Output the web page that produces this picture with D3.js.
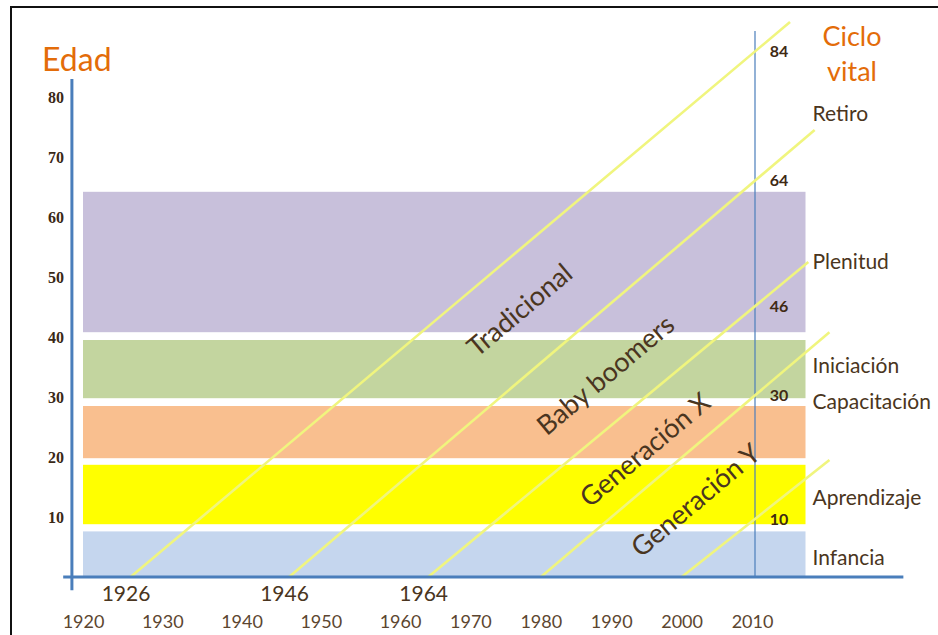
<!DOCTYPE html>
<html>
<head>
<meta charset="utf-8">
<script src="https://cdn.jsdelivr.net/npm/d3@7"></script>
<style>
  body { margin: 0; background: #ffffff; }
  #chart text { font-family: Lato, "Open Sans", sans-serif; }
</style>
</head>
<body>
<div id="chart"></div>
<script>

// ---- data ----

// age bands (life stages), from/to in years of age
var stageNames = ["Infancia", "Aprendizaje", "Capacitación", "Iniciación", "Plenitud"];
var stageFrom = [0, 8.8, 19.8, 29.8, 40.8];
var stageTo = [7.6, 18.7, 28.5, 39.5, 64.2];
var bandYears = [1920, 2017.6];

// labels on the right ("Ciclo vital") and the age where they sit
var lifeLabels = ["Retiro", "Plenitud", "Iniciación", "Capacitación", "Aprendizaje", "Infancia"];
var lifeLabelAges = [77.3, 52.5, 35.2, 29.2, 13.3, 3.3];

// generation lines: birth year, where the line ends (year, age)
var births = [1926, 1946, 1964, 1980, 2000];
var lineEndYears = [2015.4, 2018.9, 2018, 2021, 2021];
var lineEndAges = [92.5, 74.5, 52.5, 40.8, 19.5];
var birthLabels = [1926, 1946, 1964];
var refYear = 2010;
var refTopAge = 91;

// generation names, centre of the rotated text (year, age)
var genNames = ["Tradicional", "Baby boomers", "Generación X", "Generación Y"];
var genYears = [1977, 1989.2, 1994.8, 2002];
var genAges = [44.5, 33.7, 21.2, 12.8];

// tick labels
var yearTicks = [1920, 1930, 1940, 1950, 1960, 1970, 1980, 1990, 2000, 2010];
var ageTicks = [10, 20, 30, 40, 50, 60, 70, 80];

// ---- styles ----
var stageColors = ["#c5d6ee", "#ffff00", "#f9bf8f", "#c3d59f", "#c8c0db"];
var axisBlue = "#4a7ebb";
var brown = "#4a3520";
var orange = "#e36c09";

var svgWidth = 938;
var svgHeight = 635;

var svg = d3.select("#chart")
    .append("svg")
    .attr("width", svgWidth)
    .attr("height", svgHeight);

// the hand drawn year axis is not quite even, so two pieces
var x = d3.scaleLinear()
    .domain([1920, 1960, 2010])
    .range([83, 400, 752]);

var y = d3.scaleLinear()
    .domain([0, 80])
    .range([577, 97]);

// frame (only top and left are inside the picture)
svg.append("path")
    .attr("d", "M11,640 V7 H945")
    .attr("fill", "none")
    .attr("stroke", "#111")
    .attr("stroke-width", 2);

// bands
svg.selectAll(".band")
    .data(stageNames)
    .enter().append("rect")
    .attr("class", "band")
    .attr("x", x(bandYears[0]))
    .attr("width", x(bandYears[1]) - x(bandYears[0]))
    .attr("y", (d, i) => y(stageTo[i]))
    .attr("height", (d, i) => y(stageFrom[i]) - y(stageTo[i]))
    .attr("fill", (d, i) => stageColors[i]);

// vertical line at 2010
svg.append("line")
    .attr("x1", x(refYear) + 3).attr("x2", x(refYear) + 3)
    .attr("y1", y(refTopAge)).attr("y2", y(0))
    .attr("stroke", axisBlue)
    .attr("stroke-width", 1.2);

// generation lines
var lineData = births.map((b, i) => [[b, 0], [lineEndYears[i], lineEndAges[i]]]);
var lineGen = d3.line().x(d => x(d[0])).y(d => y(d[1]));

svg.selectAll(".gen-line")
    .data(lineData)
    .enter().append("path")
    .attr("class", "gen-line")
    .attr("d", lineGen)
    .attr("stroke", "#f0f57e")
    .attr("stroke-width", 2.6)
    .attr("fill", "none");

// where each line crosses 2010 (pixel interpolation along the drawn line)
function crossAt(i) {
    var x0 = x(births[i]), y0 = y(0);
    var x1 = x(lineEndYears[i]), y1 = y(lineEndAges[i]);
    var t = (x(refYear) + 3 - x0) / (x1 - x0);
    return y0 + t * (y1 - y0);
}

svg.selectAll(".age-lbl")
    .data(births)
    .enter().append("text")
    .attr("class", "age-lbl")
    .attr("x", x(refYear) + 27)
    .attr("y", (d, i) => crossAt(i))
    .attr("dy", "0.35em")
    .attr("text-anchor", "middle")
    .attr("font-size", "16px")
    .attr("font-weight", "bold")
    .attr("fill", "#3f2a14")
    .text(d => refYear - d);

// axes (drawn as thick blue lines, ticks only as labels)
svg.append("line")
    .attr("x1", x(1918.6)).attr("x2", x(1918.6))
    .attr("y1", y(83)).attr("y2", y(-2.2))
    .attr("stroke", axisBlue).attr("stroke-width", 3);

svg.append("line")
    .attr("x1", x(1917.5)).attr("x2", x(2031.5))
    .attr("y1", y(0)).attr("y2", y(0))
    .attr("stroke", axisBlue).attr("stroke-width", 3);

var yAxis = d3.axisLeft(y).tickValues(ageTicks).tickSize(0).tickPadding(8);
var gy = svg.append("g")
    .attr("transform", `translate(${x(1918.6)}, 0)`)
    .call(yAxis);
gy.select(".domain").remove();
gy.selectAll("text")
    .style("font-family", "'Liberation Serif', serif")
    .attr("font-size", "16px")
    .attr("font-weight", "bold")
    .attr("fill", "#3a2816");

var xAxis = d3.axisBottom(x).tickValues(yearTicks).tickSize(0).tickPadding(38)
    .tickFormat(d3.format("d"));
var gx = svg.append("g")
    .attr("transform", `translate(0, ${y(0)})`)
    .call(xAxis);
gx.select(".domain").remove();
gx.selectAll("text")
    .attr("font-size", "18px")
    .attr("fill", "#5c4630");

var bAxis = d3.axisBottom(x).tickValues(birthLabels).tickSize(0).tickPadding(9)
    .tickFormat(d3.format("d"));
var gb = svg.append("g")
    .attr("transform", `translate(-5, ${y(0)})`)
    .call(bAxis);
gb.select(".domain").remove();
gb.selectAll("text")
    .attr("font-size", "21px")
    .attr("fill", brown);

// right side labels
svg.selectAll(".life-lbl")
    .data(lifeLabels)
    .enter().append("text")
    .attr("class", "life-lbl")
    .attr("x", x(2018.6))
    .attr("y", (d, i) => y(lifeLabelAges[i]))
    .attr("dy", "0.35em")
    .attr("font-size", "21px")
    .attr("fill", brown)
    .text(d => d);

// generation names along the lines
svg.selectAll(".gen-lbl")
    .data(genNames)
    .enter().append("text")
    .attr("class", "gen-lbl")
    .attr("transform", (d, i) => `translate(${x(genYears[i])}, ${y(genAges[i])}) rotate(-40)`)
    .attr("text-anchor", "middle")
    .attr("dy", "0.35em")
    .attr("font-size", "27px")
    .attr("fill", brown)
    .text(d => d);

// titles
svg.append("text")
    .attr("x", 42).attr("y", 71)
    .attr("font-size", "32px")
    .attr("fill", orange)
    .text("Edad");

svg.append("text")
    .attr("x", 852).attr("y", 46)
    .attr("text-anchor", "middle")
    .attr("font-size", "27px")
    .attr("fill", orange)
    .text("Ciclo");

svg.append("text")
    .attr("x", 852).attr("y", 81)
    .attr("text-anchor", "middle")
    .attr("font-size", "27px")
    .attr("fill", orange)
    .text("vital");

</script>
</body>
</html>
